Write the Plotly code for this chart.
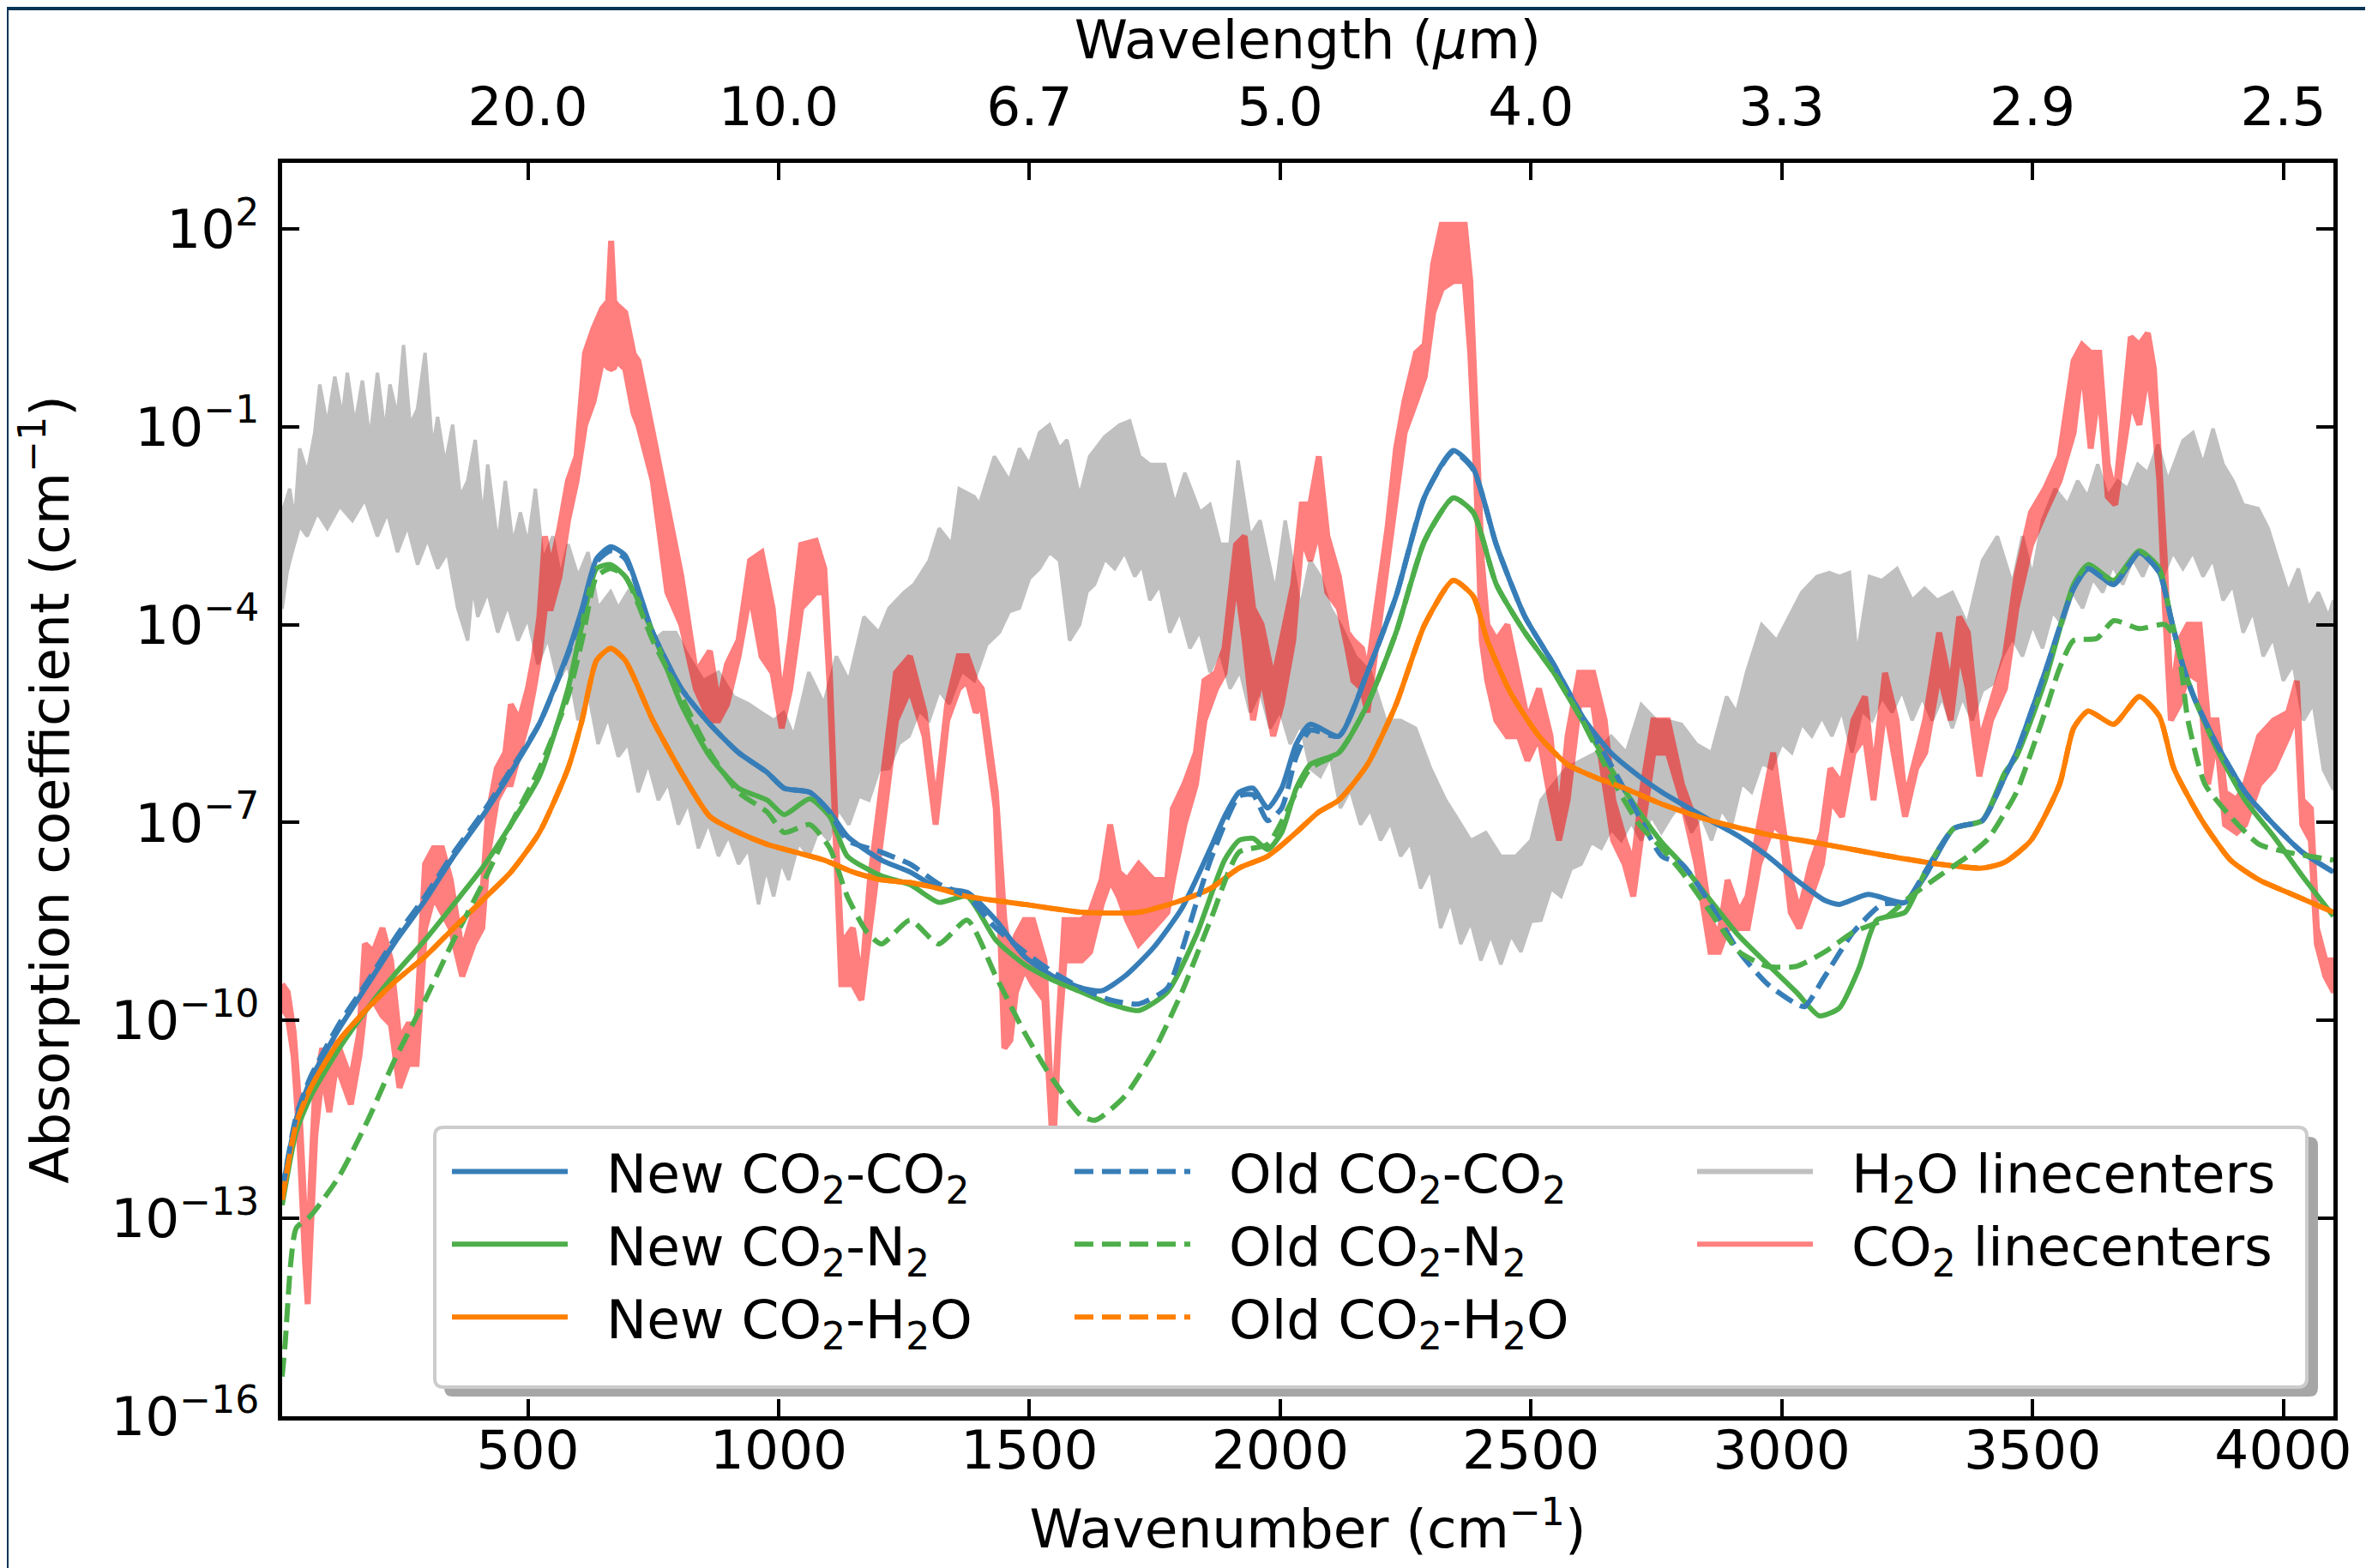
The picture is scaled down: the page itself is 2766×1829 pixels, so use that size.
import plotly.graph_objects as go

# ---------------- data (wavenumber cm^-1, log10 absorption coefficient) ----------------
NEW_CO2_CO2 = [(10,-12.6),(38,-11.5),(67,-10.9),(124,-10.12),(181,-9.45),(238,-8.78),(295,-8.18),(352,-7.51),
 (409,-6.91),(466,-6.24),(523,-5.5),(580,-4.42),(608,-3.76),(637,-3.0),(665,-2.82),(694,-2.95),(749,-4.12),
 (806,-4.97),(863,-5.51),(920,-5.94),(977,-6.24),(1011,-6.48),(1062,-6.54),(1102,-6.84),(1137,-7.21),(1205,-7.57),
 (1262,-7.75),(1319,-8.0),(1376,-8.06),(1433,-8.48),(1490,-9.03),(1547,-9.33),(1604,-9.51),(1644,-9.55),(1690,-9.33),
 (1747,-8.9),(1804,-8.3),(1861,-7.39),(1889,-6.91),(1918,-6.54),(1946,-6.48),(1975,-6.78),(2003,-6.48),(2032,-5.81),
 (2060,-5.51),(2117,-5.69),(2174,-4.72),(2231,-3.57),(2288,-2.06),(2345,-1.36),(2385,-1.63),(2431,-2.79),(2488,-3.88),
 (2545,-4.6),(2602,-5.39),(2659,-5.94),(2716,-6.3),(2761,-6.54),(2801,-6.72),(2858,-6.97),(2915,-7.21),(2972,-7.51),
 (3029,-7.87),(3086,-8.18),(3115,-8.24),(3172,-8.09),(3246,-8.21),(3286,-7.81),(3343,-7.09),(3400,-6.97),(3445,-6.3),
 (3468,-5.94),(3525,-4.72),(3582,-3.45),(3611,-3.15),(3662,-3.39),(3713,-2.91),(3753,-3.21),(3776,-3.9),(3799,-4.6),
 (3822,-5.1),(3867,-5.81),(3924,-6.54),(3981,-7.03),(4038,-7.45),(4100,-7.75)]

NEW_CO2_N2 = [(10,-12.8),(38,-11.69),(67,-11.15),(124,-10.42),(181,-9.81),(238,-9.27),(295,-8.78),(352,-8.24),
 (409,-7.69),(466,-7.03),(523,-6.3),(580,-4.97),(608,-4.0),(637,-3.15),(665,-3.09),(694,-3.27),(749,-4.12),(806,-5.21),
 (863,-6.0),(920,-6.48),(977,-6.66),(1011,-6.88),(1062,-6.64),(1102,-6.91),(1137,-7.51),(1205,-7.81),(1262,-7.94),
 (1319,-8.21),(1376,-8.12),(1433,-8.78),(1490,-9.15),(1547,-9.39),(1604,-9.57),(1661,-9.75),(1718,-9.85),(1775,-9.57),
 (1832,-8.72),(1889,-7.57),(1918,-7.27),(1946,-7.24),(1975,-7.41),(2003,-7.15),(2032,-6.48),(2060,-6.12),(2117,-5.94),
 (2174,-5.21),(2231,-4.12),(2288,-2.73),(2345,-2.08),(2385,-2.3),(2431,-3.39),(2488,-4.12),(2545,-4.72),(2602,-5.45),
 (2659,-6.18),(2716,-6.84),(2761,-7.3),(2801,-7.63),(2858,-8.18),(2915,-8.72),(2972,-9.15),(3029,-9.57),(3075,-9.93),
 (3115,-9.81),(3154,-9.21),(3189,-8.48),(3246,-8.36),(3286,-7.75),(3343,-7.09),(3400,-6.97),(3445,-6.24),(3468,-6.0),
 (3525,-4.85),(3582,-3.39),(3611,-3.09),(3662,-3.33),(3713,-2.88),(3753,-3.15),(3776,-3.9),(3799,-4.6),(3822,-5.1),
 (3867,-5.88),(3924,-6.66),(3981,-7.21),(4038,-7.81),(4100,-8.42)]

NEW_CO2_H2O = [(10,-12.72),(38,-11.57),(67,-11.02),(124,-10.3),(181,-9.81),(238,-9.39),(295,-9.03),(352,-8.6),
 (409,-8.18),(466,-7.75),(523,-7.15),(580,-6.18),(608,-5.45),(637,-4.54),(665,-4.36),(694,-4.54),(749,-5.45),
 (806,-6.24),(863,-6.91),(920,-7.15),(977,-7.33),(1034,-7.45),(1091,-7.57),(1148,-7.75),(1205,-7.87),(1262,-7.91),
 (1319,-8.0),(1376,-8.12),(1490,-8.24),(1604,-8.36),(1718,-8.36),(1803,-8.18),(1861,-8.0),(1918,-7.69),(1975,-7.51),
 (2032,-7.15),(2077,-6.84),(2117,-6.66),(2174,-6.12),(2231,-5.21),(2288,-4.0),(2345,-3.33),(2385,-3.57),(2413,-4.24),
 (2459,-5.03),(2516,-5.69),(2573,-6.12),(2630,-6.32),(2687,-6.48),(2761,-6.72),(2858,-6.97),(2972,-7.18),(3086,-7.33),
 (3200,-7.49),(3314,-7.63),(3400,-7.69),(3445,-7.6),(3497,-7.27),(3554,-6.42),(3582,-5.57),(3611,-5.31),(3662,-5.51),
 (3713,-5.09),(3753,-5.39),(3782,-6.18),(3838,-6.97),(3895,-7.57),(3952,-7.87),(4009,-8.06),(4100,-8.36)]

OLD_CO2_CO2 = [(10,-12.6),(38,-11.45),(67,-10.85),(124,-10.05),(181,-9.4),(238,-8.72),(295,-8.12),(352,-7.46),
 (409,-6.86),(466,-6.2),(523,-5.5),(580,-4.45),(608,-3.8),(637,-3.05),(665,-2.88),(694,-3.0),(749,-4.12),(806,-4.97),
 (863,-5.51),(920,-5.94),(977,-6.24),(1011,-6.48),(1062,-6.54),(1102,-6.84),(1137,-7.27),(1205,-7.45),(1262,-7.63),
 (1319,-7.93),(1376,-8.12),(1433,-8.6),(1490,-8.96),(1547,-9.27),(1604,-9.51),(1661,-9.69),(1718,-9.75),(1775,-9.51),
 (1803,-8.96),(1832,-8.24),(1861,-7.57),(1889,-7.03),(1918,-6.6),(1946,-6.58),(1975,-6.97),(2003,-6.78),(2032,-6.0),
 (2060,-5.6),(2117,-5.69),(2174,-4.72),(2231,-3.57),(2288,-2.06),(2345,-1.38),(2385,-1.65),(2431,-2.79),(2488,-3.88),
 (2545,-4.6),(2602,-5.39),(2659,-6.12),(2716,-6.91),(2761,-7.51),(2801,-7.63),(2858,-8.24),(2915,-8.96),(2972,-9.45),
 (3029,-9.75),(3046,-9.79),(3086,-9.33),(3143,-8.66),(3200,-8.24),(3246,-8.21),(3286,-7.75),(3343,-7.09),(3400,-6.97),
 (3445,-6.3),(3468,-5.94),(3525,-4.72),(3582,-3.45),(3611,-3.15),(3662,-3.39),(3713,-2.91),(3753,-3.21),(3776,-3.9),
 (3799,-4.6),(3822,-5.1),(3867,-5.81),(3924,-6.54),(3981,-7.03),(4038,-7.45),(4100,-7.75)]

OLD_CO2_N2 = [(10,-15.4),(16,-14.9),(27,-13.69),(38,-13.15),(67,-12.96),(124,-12.36),(181,-11.51),(238,-10.54),
 (295,-9.69),(352,-8.78),(409,-7.94),(466,-7.03),(523,-6.18),(580,-5.09),(608,-4.24),(637,-3.27),(665,-3.15),
 (694,-3.27),(749,-4.24),(806,-5.09),(863,-5.94),(920,-6.54),(977,-6.84),(1011,-7.15),(1062,-7.03),(1102,-7.39),
 (1137,-8.12),(1176,-8.66),(1205,-8.84),(1262,-8.48),(1319,-8.84),(1376,-8.48),(1433,-9.33),(1490,-10.18),
 (1547,-10.9),(1604,-11.45),(1632,-11.51),(1690,-11.15),(1747,-10.48),(1804,-9.57),(1861,-8.48),(1918,-7.45),
 (1975,-7.33),(2032,-6.54),(2060,-6.18),(2117,-5.94),(2174,-5.21),(2231,-4.12),(2288,-2.73),(2345,-2.08),(2385,-2.3),
 (2431,-3.39),(2488,-4.12),(2545,-4.72),(2602,-5.45),(2659,-6.3),(2716,-7.03),(2761,-7.39),(2801,-7.75),(2858,-8.36),
 (2915,-8.96),(2972,-9.18),(3029,-9.18),(3086,-8.96),(3143,-8.66),(3200,-8.48),(3257,-8.12),(3314,-7.81),(3371,-7.51),
 (3411,-7.25),(3445,-6.85),(3468,-6.54),(3525,-5.33),(3554,-4.66),(3582,-4.24),(3628,-4.21),(3662,-3.94),(3713,-4.06),
 (3764,-4.0),(3787,-4.24),(3810,-5.45),(3844,-6.42),(3895,-6.91),(3952,-7.33),(4009,-7.45),(4100,-7.57)]

OLD_CO2_H2O = list(NEW_CO2_H2O)

# CO2 line-centre spectrum: (wavenumber, upper log10, lower log10)
CO2_LINES = [(10,-9.45,-9.81),(21,-9.57,-9.93),(33,-10.18,-10.54),(44,-11.27,-11.75),(56,-13.09,-13.69),
 (61,-13.93,-14.3),(67,-12.48,-13.21),(76,-11.02,-11.75),(90,-10.42,-10.78),(104,-10.78,-11.39),(118,-10.3,-10.66),
 (147,-10.9,-11.27),(164,-10.18,-10.54),(175,-8.84,-9.81),(192,-8.96,-9.69),(210,-8.6,-9.93),(227,-9.09,-10.06),
 (244,-10.3,-11.02),(261,-10.06,-10.66),(278,-10.06,-10.66),(295,-7.63,-8.6),(312,-7.39,-8.12),(329,-7.39,-8.36),
 (346,-7.87,-8.6),(369,-8.96,-9.33),(392,-8.36,-8.84),(409,-8.12,-8.6),(420,-6.91,-7.51),(438,-6.18,-6.66),
 (455,-5.94,-6.42),(466,-5.21,-6.42),(483,-5.45,-5.94),(500,-4.97,-5.45),(512,-4.48,-4.97),(523,-3.88,-4.48),
 (534,-2.66,-3.75),(546,-3.15,-3.75),(563,-2.54,-3.27),(580,-1.82,-2.42),(597,-1.45,-1.82),(614,0.12,-0.97),
 (631,0.49,-0.61),(648,0.79,0.0),(660,0.9,-0.1),(666,1.82,-0.12),(672,0.9,-0.1),(677,0.85,0.0),(694,0.73,-0.12),
 (711,0.1,-0.8),(720,0.0,-0.97),(749,-1.09,-1.82),(778,-2.18,-3.51),(806,-3.27,-4.0),(835,-4.73,-4.97),
 (863,-4.4,-5.45),(880,-5.21,-5.45),(897,-4.6,-5.21),(920,-4.24,-4.48),(943,-3.03,-3.51),(966,-2.91,-4.48),
 (988,-3.75,-4.73),(1006,-5.21,-5.57),(1023,-4.24,-4.97),(1045,-2.79,-3.75),(1074,-2.73,-3.51),(1091,-3.15,-3.51),
 (1102,-4.73,-4.97),(1114,-7.15,-7.39),(1125,-8.84,-9.45),(1148,-8.6,-9.45),(1165,-9.45,-9.69),(1182,-7.87,-8.6),
 (1205,-6.42,-7.15),(1234,-4.73,-5.45),(1262,-4.48,-4.97),(1291,-5.33,-5.69),(1313,-6.79,-7.03),(1336,-5.21,-5.45),
 (1359,-4.48,-4.97),(1376,-4.48,-4.85),(1393,-4.85,-5.33),(1405,-4.97,-5.21),(1433,-6.54,-6.79),(1450,-8.48,-10.42),
 (1462,-9.09,-10.3),(1473,-8.72,-9.57),(1490,-8.48,-9.21),(1507,-8.48,-9.45),(1530,-9.09,-9.69),(1547,-11.75,-11.99),
 (1558,-10.06,-10.3),(1570,-8.48,-9.09),(1604,-8.48,-9.09),(1621,-8.36,-8.96),(1644,-7.87,-8.24),(1661,-7.03,-7.87),
 (1678,-7.75,-8.12),(1695,-7.87,-8.48),(1718,-7.63,-8.84),(1747,-7.87,-8.6),(1775,-7.87,-8.36),(1786,-6.79,-7.87),
 (1809,-6.42,-7.03),(1832,-5.94,-6.42),(1849,-4.85,-5.45),(1872,-4.73,-4.97),(1889,-4.36,-4.73),(1912,-2.79,-3.27),
 (1929,-2.66,-4.24),(1946,-3.75,-5.45),(1963,-4.0,-4.73),(1986,-4.85,-5.69),(2003,-4.24,-5.21),(2026,-3.39,-4.24),
 (2043,-2.18,-2.66),(2060,-2.18,-3.03),(2077,-1.45,-2.54),(2094,-2.66,-3.51),(2117,-3.27,-3.75),(2134,-4.12,-4.36),
 (2146,-4.24,-4.85),(2163,-4.36,-4.97),(2174,-4.73,-5.33),(2191,-3.75,-4.24),(2214,-2.54,-3.03),(2231,-1.33,-2.06),
 (2248,-0.61,-1.09),(2271,0.12,-0.61),(2288,0.24,-0.24),(2305,1.46,0.73),(2322,2.06,1.09),(2345,2.06,1.21),
 (2368,2.06,1.21),(2379,1.21,0.12),(2391,-0.97,-1.82),(2402,-3.03,-4.24),(2413,-4.0,-4.85),(2431,-4.24,-5.45),
 (2453,-4.0,-5.69),(2476,-4.85,-5.69),(2493,-5.45,-6.06),(2516,-4.97,-5.69),(2539,-5.69,-6.66),(2556,-7.03,-7.27),
 (2573,-5.69,-6.66),(2596,-4.73,-5.21),(2624,-4.73,-5.21),(2647,-5.45,-6.42),(2664,-6.66,-7.27),(2687,-7.27,-7.63),
 (2704,-7.63,-8.12),(2721,-6.54,-7.15),(2744,-5.45,-5.94),(2773,-5.45,-5.94),(2801,-6.42,-6.66),(2830,-7.03,-7.63),
 (2858,-8.48,-8.96),(2875,-8.72,-8.96),(2892,-7.87,-8.6),(2915,-8.36,-8.6),(2932,-8.12,-8.6),(2955,-7.03,-7.63),
 (2983,-5.94,-7.03),(3000,-6.91,-7.15),(3018,-7.87,-8.36),(3035,-8.36,-8.6),(3058,-7.63,-8.12),(3080,-7.15,-7.63),
 (3097,-6.18,-6.66),(3120,-6.42,-6.91),(3143,-5.45,-5.94),(3166,-5.09,-5.69),(3183,-6.3,-6.66),(3206,-4.73,-5.21),
 (3229,-5.45,-6.18),(3246,-6.66,-6.91),(3268,-5.94,-6.18),(3286,-5.45,-5.94),(3314,-4.12,-4.73),(3337,-4.97,-5.45),
 (3354,-3.88,-4.36),(3371,-4.12,-4.97),(3394,-5.81,-6.3),(3417,-5.21,-5.45),(3445,-4.48,-4.97),(3468,-3.27,-3.75),
 (3497,-2.3,-2.79),(3525,-1.94,-2.3),(3554,-1.45,-1.82),(3582,0.0,-1.09),(3599,0.24,0.0),(3616,0.12,-1.33),
 (3633,0.12,-0.36),(3650,-1.57,-2.06),(3665,-2.06,-2.18),(3679,-0.97,-1.45),(3696,0.36,-0.61),(3713,0.24,-0.97),
 (3730,0.42,-0.12),(3742,-0.12,-0.85),(3753,-1.57,-1.82),(3764,-3.03,-3.75),(3776,-5.21,-5.45),(3793,-4.24,-5.21),
 (3810,-4.0,-4.73),(3833,-4.0,-4.85),(3850,-5.45,-6.42),(3867,-5.45,-5.69),(3884,-6.54,-7.03),(3907,-6.66,-7.15),
 (3924,-6.42,-7.03),(3952,-5.69,-6.42),(3981,-5.45,-6.18),(4010,-5.33,-5.69),(4027,-4.85,-5.33),(4038,-6.66,-7.03),
 (4055,-6.79,-7.27),(4067,-8.6,-8.84),(4084,-9.09,-9.33),(4101,-9.09,-9.57)]

# H2O line-centre spectrum: upper (spiky) edge and lower (spiky) edge
H2O_UPPER = [(10,-2.3),(25,-1.94),(35,-2.42),(45,-1.33),(60,-1.7),(75,-1.09),(85,-0.36),(100,-0.97),(115,-0.24),
 (130,-0.85),(140,-0.18),(155,-0.97),(170,-0.3),(185,-1.2),(200,-0.18),(215,-1.09),(225,-0.36),(240,-0.85),(252,0.24),
 (265,-0.97),(280,-0.73),(295,0.12),(310,-1.33),(320,-0.85),(335,-1.57),(350,-0.97),(365,-2.06),(380,-1.82),(395,-1.2),
 (410,-2.42),(420,-1.57),(440,-2.78),(455,-1.82),(470,-2.78),(485,-2.3),(500,-2.78),(515,-1.94),(530,-3.03),(550,-2.66),
 (565,-3.27),(580,-2.78),(600,-3.27),(620,-2.9),(640,-3.75),(665,-3.5),(680,-3.75),(700,-3.5),(720,-3.75),(750,-4.24),
 (770,-4.12),(795,-4.12),(820,-4.48),(850,-4.85),(880,-4.72),(910,-5.09),(940,-5.2),(965,-5.33),(990,-5.45),
 (1010,-5.33),(1030,-5.69),(1060,-4.72),(1090,-5.2),(1115,-4.48),(1140,-4.85),(1170,-3.88),(1200,-4.12),(1220,-3.75),
 (1250,-3.51),(1270,-3.39),(1300,-3.03),(1320,-2.54),(1345,-2.78),(1360,-1.94),(1390,-2.06),(1400,-2.18),(1430,-1.45),
 (1460,-1.82),(1480,-1.33),(1500,-1.57),(1520,-1.09),(1540,-0.97),(1560,-1.33),(1575,-1.2),(1600,-2.06),(1620,-1.45),
 (1650,-1.15),(1680,-0.97),(1700,-0.91),(1720,-1.45),(1740,-1.57),(1770,-1.57),(1790,-2.18),(1810,-1.7),(1840,-2.3),
 (1860,-2.18),(1880,-2.78),(1900,-2.78),(1916,-1.51),(1940,-2.66),(1960,-2.42),(1990,-3.5),(2010,-2.42),(2040,-3.75),
 (2060,-3.03),(2080,-3.27),(2100,-3.75),(2120,-4.0),(2150,-4.48),(2180,-4.72),(2210,-5.45),(2240,-5.45),(2270,-5.57),
 (2300,-6.18),(2330,-6.66),(2350,-6.9),(2380,-7.27),(2410,-7.15),(2440,-7.51),(2470,-7.51),(2500,-7.27),(2520,-6.66),
 (2545,-6.42),(2570,-6.18),(2600,-6.06),(2630,-5.94),(2660,-5.69),(2690,-5.94),(2720,-5.21),(2750,-5.45),(2770,-5.45),
 (2800,-5.51),(2830,-5.81),(2860,-5.94),(2890,-5.09),(2910,-5.33),(2930,-4.72),(2960,-4.0),(2990,-4.24),(3010,-3.94),
 (3040,-3.51),(3070,-3.27),(3095,-3.21),(3115,-3.27),(3135,-3.21),(3150,-4.48),(3175,-3.27),(3200,-3.33),(3230,-3.15),
 (3260,-3.63),(3285,-3.45),(3310,-3.63),(3340,-3.51),(3370,-4.0),(3400,-3.03),(3430,-2.66),(3460,-3.39),(3480,-2.66),
 (3500,-3.27),(3520,-2.42),(3545,-1.94),(3570,-2.18),(3590,-1.82),(3610,-2.06),(3630,-1.57),(3650,-2.06),(3670,-1.82),
 (3690,-1.94),(3710,-1.57),(3730,-1.7),(3750,-1.27),(3770,-1.82),(3800,-1.21),(3820,-1.09),(3840,-1.57),(3860,-1.03),
 (3880,-1.57),(3900,-1.82),(3920,-2.18),(3950,-2.24),(3970,-2.54),(3990,-3.03),(4010,-3.51),(4030,-3.15),(4050,-3.75),
 (4070,-3.51),(4090,-3.88),(4100,-3.63)]

H2O_LOWER = [(10,-3.76),(20,-3.2),(30,-2.9),(45,-2.5),(60,-2.66),(80,-2.3),(100,-2.54),(125,-2.2),(150,-2.42),
 (175,-2.1),(200,-2.66),(220,-2.3),(240,-2.9),(260,-2.5),(280,-3.09),(300,-2.7),(320,-3.15),(340,-2.9),(360,-3.75),
 (380,-4.24),(390,-3.4),(400,-3.88),(420,-3.5),(440,-4.12),(460,-3.7),(480,-4.24),(500,-3.9),(520,-4.6),(540,-4.2),
 (560,-4.85),(580,-4.6),(600,-5.45),(620,-5.0),(640,-5.81),(660,-5.4),(680,-6.0),(700,-5.8),(720,-6.54),(740,-6.1),
 (760,-6.66),(780,-6.4),(800,-7.03),(820,-6.7),(840,-7.39),(860,-7.0),(880,-7.51),(900,-7.2),(920,-7.63),(940,-7.4),
 (960,-8.24),(975,-7.7),(990,-8.12),(1005,-7.6),(1020,-7.87),(1040,-7.3),(1060,-7.51),(1080,-7.1),(1100,-7.27),
 (1120,-6.8),(1140,-7.03),(1160,-6.6),(1180,-6.66),(1200,-6.2),(1220,-6.18),(1240,-5.8),(1260,-5.69),(1280,-5.3),
 (1300,-5.45),(1320,-5.0),(1340,-5.2),(1365,-4.7),(1390,-4.85),(1415,-4.3),(1440,-4.12),(1460,-3.8),(1480,-3.75),
 (1500,-3.3),(1520,-3.15),(1540,-2.9),(1560,-3.03),(1580,-4.24),(1600,-4.0),(1615,-3.5),(1630,-3.39),(1650,-3.0),
 (1670,-3.15),(1690,-2.9),(1710,-3.27),(1725,-3.1),(1740,-3.63),(1760,-3.4),(1780,-4.12),(1800,-3.8),(1820,-4.36),
 (1840,-4.1),(1860,-4.72),(1880,-4.4),(1900,-4.97),(1920,-4.7),(1940,-5.33),(1960,-5.0),(1980,-5.57),(2000,-5.3),
 (2020,-5.81),(2040,-5.5),(2060,-6.18),(2080,-6.3),(2100,-6.0),(2120,-6.78),(2140,-6.5),(2160,-7.03),(2180,-6.8),
 (2200,-7.27),(2220,-7.0),(2240,-7.51),(2260,-7.3),(2280,-8.0),(2300,-7.7),(2320,-8.6),(2340,-8.2),(2360,-8.84),
 (2380,-8.5),(2400,-9.09),(2420,-8.7),(2440,-9.15),(2460,-8.7),(2480,-8.96),(2500,-8.5),(2520,-8.48),(2540,-8.0),
 (2560,-8.12),(2580,-7.7),(2600,-7.63),(2620,-7.3),(2640,-7.39),(2660,-7.1),(2680,-7.27),(2700,-7.0),(2720,-7.27),
 (2740,-6.9),(2760,-7.15),(2780,-6.9),(2800,-6.7),(2820,-7.15),(2840,-6.9),(2860,-7.27),(2880,-6.8),(2900,-7.03),
 (2920,-6.4),(2940,-6.54),(2960,-6.1),(2980,-6.18),(3000,-5.8),(3020,-5.94),(3040,-5.5),(3060,-5.69),(3080,-5.4),
 (3100,-5.69),(3120,-5.3),(3140,-5.94),(3160,-5.3),(3180,-5.45),(3200,-5.1),(3220,-5.33),(3240,-5.0),(3260,-5.45),
 (3280,-5.1),(3300,-5.45),(3320,-5.1),(3340,-5.57),(3360,-5.1),(3380,-5.45),(3400,-5.0),(3420,-4.9),(3440,-4.48),
 (3460,-4.2),(3480,-4.48),(3500,-4.0),(3520,-4.36),(3540,-3.8),(3560,-4.0),(3580,-3.5),(3600,-3.75),(3620,-3.3),
 (3640,-3.51),(3660,-3.1),(3680,-3.39),(3700,-3.0),(3720,-3.27),(3740,-2.9),(3760,-3.27),(3780,-2.9),(3800,-3.15),
 (3820,-2.9),(3840,-3.27),(3860,-3.0),(3880,-3.63),(3900,-3.4),(3920,-4.12),(3940,-3.8),(3960,-4.48),(3980,-4.2),
 (4000,-4.85),(4020,-4.6),(4040,-5.45),(4060,-5.2),(4080,-6.2),(4100,-6.5)]

X_TICKS = [500, 1000, 1500, 2000, 2500, 3000, 3500, 4000]
WAVELENGTH_LABELS = ["20.0", "10.0", "6.7", "5.0", "4.0", "3.3", "2.9", "2.5"]
Y_TICK_EXP = [2, -1, -4, -7, -10, -13, -16]

# ---------------- styling ----------------
BLUE, GREEN, ORANGE = "#377eb8", "#4daf4a", "#ff7f00"
GREY, RED = "#c0c0c0", "#ff0000"
FONT = "DejaVu Sans"
FS = 63
LW = 6
DASH = "22px,10px"

W, H = 2766, 1829
PL, PR, PT, PB = 321, 2713, 182, 1644


def pxx(px):
    return (px - PL) / (PR - PL)


def pxy(py):
    return (PB - py) / (PB - PT)


def xy(pairs):
    return [p[0] for p in pairs], [10 ** p[1] for p in pairs]


fig = go.Figure()

# H2O line centres (filled spiky band)
gx = [p[0] for p in H2O_UPPER] + [p[0] for p in H2O_LOWER][::-1]
gy = [10 ** p[1] for p in H2O_UPPER] + [10 ** p[1] for p in H2O_LOWER][::-1]
fig.add_trace(go.Scatter(x=gx, y=gy, mode="lines", fill="toself", fillcolor=GREY,
                         line=dict(color=GREY, width=4), showlegend=False, hoverinfo="skip"))

# CO2 line centres (semi-transparent band)
rx = [p[0] for p in CO2_LINES] + [p[0] for p in CO2_LINES][::-1]
ry = [10 ** p[1] for p in CO2_LINES] + [10 ** p[2] for p in CO2_LINES][::-1]
fig.add_trace(go.Scatter(x=rx, y=ry, mode="lines", fill="toself", fillcolor=RED, opacity=0.5,
                         line=dict(color=RED, width=7), showlegend=False, hoverinfo="skip"))

curves = [
    (NEW_CO2_CO2, BLUE, "solid"), (NEW_CO2_N2, GREEN, "solid"), (NEW_CO2_H2O, ORANGE, "solid"),
    (OLD_CO2_CO2, BLUE, DASH), (OLD_CO2_N2, GREEN, DASH), (OLD_CO2_H2O, ORANGE, DASH),
]
for data, col, dash in curves:
    x, y = xy(data)
    fig.add_trace(go.Scatter(x=x, y=y, mode="lines",
                             line=dict(color=col, width=LW, dash=dash, shape="spline", smoothing=0.6),
                             showlegend=False, hoverinfo="skip"))

# legend entries (row-major order to obtain matplotlib's column layout)
SP = "\u00a0\u00a0"
legend_entries = [
    ("New CO<sub>2</sub>-CO<sub>2</sub>", BLUE, "solid"),
    ("Old CO<sub>2</sub>-CO<sub>2</sub>", BLUE, DASH),
    ("H<sub>2</sub>O linecenters", GREY, "solid"),
    ("New CO<sub>2</sub>-N<sub>2</sub>", GREEN, "solid"),
    ("Old CO<sub>2</sub>-N<sub>2</sub>", GREEN, DASH),
    ("CO<sub>2</sub> linecenters", "#ff8080", "solid"),
    ("New CO<sub>2</sub>-H<sub>2</sub>O", ORANGE, "solid"),
    ("Old CO<sub>2</sub>-H<sub>2</sub>O", ORANGE, DASH),
]
for name, col, dash in legend_entries:
    fig.add_trace(go.Scatter(x=[None], y=[None], mode="lines", name=SP + name,
                             line=dict(color=col, width=LW, dash=dash), showlegend=True))

# dummy trace for the top (wavelength) axis
fig.add_trace(go.Scatter(x=[None], y=[None], xaxis="x2", showlegend=False, hoverinfo="skip"))

axis_common = dict(showline=True, linecolor="black", linewidth=5, ticks="inside", ticklen=20,
                   tickwidth=4, tickcolor="black", showgrid=False, zeroline=False,
                   tickfont=dict(family=FONT, size=FS, color="black"))

fig.update_layout(
    width=W, height=H,
    margin=dict(l=PL, r=W - PR, t=PT, b=H - PB, pad=0),
    paper_bgcolor="#083556", plot_bgcolor="white",
    font=dict(family=FONT, size=FS, color="black"),
    xaxis=dict(range=[10, 4100], tickmode="array", tickvals=X_TICKS,
               ticktext=[str(v) for v in X_TICKS], side="bottom", ticklabelstandoff=-20,
               title=dict(text="Wavenumber (cm<sup>−1</sup>)", standoff=36,
                          font=dict(family=FONT, size=FS)), **axis_common),
    xaxis2=dict(range=[10, 4100], overlaying="x", side="top", anchor="y", tickmode="array",
                tickvals=X_TICKS, ticktext=WAVELENGTH_LABELS, ticklabelstandoff=14,
                title=dict(text="Wavelength (<i>μ</i>m)", standoff=0, font=dict(family=FONT, size=FS)),
                **axis_common),
    yaxis=dict(type="log", range=[-16, 3], tickmode="array",
               tickvals=[10.0 ** e for e in Y_TICK_EXP],
               ticktext=["10<sup>%s</sup>" % (str(e).replace("-", "−")) for e in Y_TICK_EXP],
               mirror="ticks", ticklabelstandoff=9,
               title=dict(text="Absorption coefficient (cm<sup>−1</sup>)", standoff=30,
                          font=dict(family=FONT, size=FS)), **axis_common),
    legend=dict(orientation="h", x=pxx(514), y=pxy(1311), xanchor="left", yanchor="top",
                bgcolor="rgba(0,0,0,0)", borderwidth=0, itemwidth=135,
                entrywidth=576, entrywidthmode="pixels",
                font=dict(family=FONT, size=FS, color="black"), traceorder="normal"),
    hovermode=False,
)


def rounded_rect(x0, y0, x1, y1, r):
    def P(a, b):
        return "%.5f,%.5f" % (pxx(a), pxy(b))
    return ("M" + P(x0 + r, y0) + " L" + P(x1 - r, y0) + " Q" + P(x1, y0) + " " + P(x1, y0 + r) +
            " L" + P(x1, y1 - r) + " Q" + P(x1, y1) + " " + P(x1 - r, y1) +
            " L" + P(x0 + r, y1) + " Q" + P(x0, y1) + " " + P(x0, y1 - r) +
            " L" + P(x0, y0 + r) + " Q" + P(x0, y0) + " " + P(x0 + r, y0) + " Z")


shapes = [
    # white page inside the dark frame
    dict(type="rect", xref="paper", yref="paper", x0=pxx(2), x1=pxx(2756), y0=pxy(1900), y1=pxy(4),
         fillcolor="white", line=dict(width=0), layer="below"),
    # legend shadow
    dict(type="path", xref="paper", yref="paper", path=rounded_rect(510, 1318, 2695, 1621, 10),
         fillcolor="#a6a6a6", line=dict(width=0), layer="above"),
    # legend frame
    dict(type="path", xref="paper", yref="paper", path=rounded_rect(499, 1307, 2682, 1610, 10),
         fillcolor="white", line=dict(color="#cccccc", width=4), layer="above"),
]
fig.update_layout(shapes=shapes)

fig.write_html("out.html")
